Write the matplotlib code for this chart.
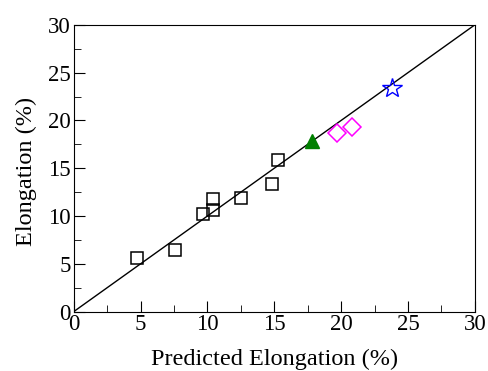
import numpy as np
import matplotlib.pyplot as plt
from matplotlib.ticker import MultipleLocator

plt.rcParams['font.family'] = ['Liberation Serif', 'DejaVu Serif']

# measured vs predicted elongation (%)
sq_pred = [4.7, 7.6, 9.7, 10.4, 10.4, 12.5, 14.8, 15.3]
sq_meas = [5.6, 6.5, 10.2, 11.8, 10.6, 11.9, 13.3, 15.9]
tri_pred = [17.8]
tri_meas = [17.9]
dia_pred = [19.7, 20.8]
dia_meas = [18.7, 19.3]
star_pred = [23.8]
star_meas = [23.4]
line_xy = [0, 30]

fig = plt.figure(figsize=(4.88, 3.71), dpi=100)
ax = fig.add_axes([0.151, 0.160, 0.822, 0.773])

ax.plot(line_xy, line_xy, color='black', linewidth=1)
ax.plot(sq_pred, sq_meas, 's', markersize=9, markerfacecolor='none',
        markeredgecolor='black', markeredgewidth=1.1)
ax.plot(tri_pred, tri_meas, '^', markersize=10, color='green')
ax.plot(dia_pred, dia_meas, 'D', markersize=9, markerfacecolor='none',
        markeredgecolor='magenta', markeredgewidth=1.1)
ax.plot(star_pred, star_meas, '*', markersize=15, markerfacecolor='none',
        markeredgecolor='blue', markeredgewidth=1.0)

ax.set_xlim(0, 30)
ax.set_ylim(0, 30)
ax.xaxis.set_major_locator(MultipleLocator(5))
ax.yaxis.set_major_locator(MultipleLocator(5))
ax.xaxis.set_minor_locator(MultipleLocator(2.5))
ax.yaxis.set_minor_locator(MultipleLocator(2.5))
ax.tick_params(which='both', direction='in', labelsize=16.5, pad=2)
ax.tick_params(which='major', length=8)
ax.tick_params(which='minor', length=5)

ax.set_xlabel('Predicted Elongation (%)', fontsize=17.5)
ax.set_ylabel('Elongation (%)', fontsize=17.5)
ax.xaxis.set_label_coords(0.5, -0.128)
ax.yaxis.set_label_coords(-0.092, 0.49)

fig.savefig('out.png', dpi=100)
